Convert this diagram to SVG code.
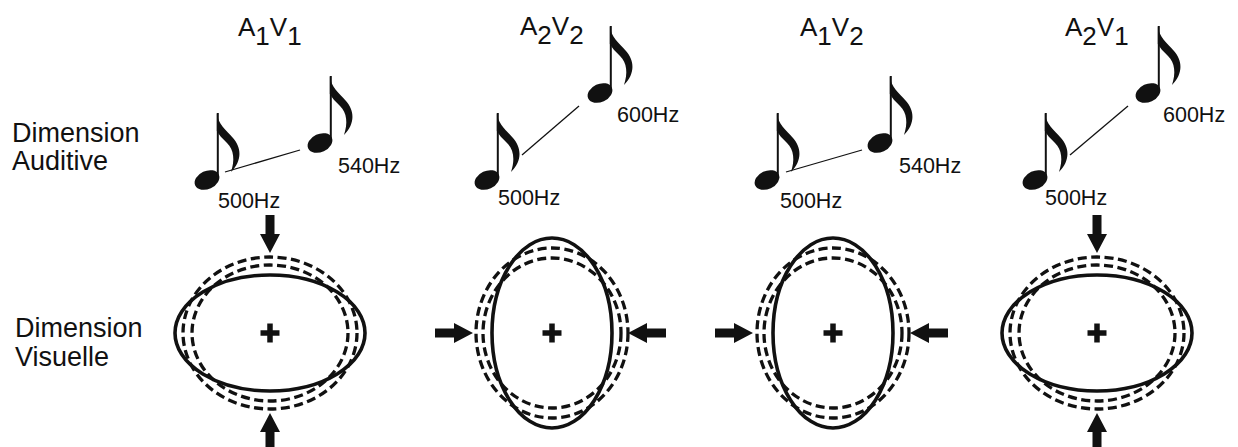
<svg xmlns="http://www.w3.org/2000/svg" xmlns:xlink="http://www.w3.org/1999/xlink" width="1238" height="447" viewBox="0 0 1238 447">
<style>
text{font-family:"Liberation Sans",Arial,sans-serif;fill:#111}
.lbl{font-size:27px}
.ttl{font-size:26px}
.hz{font-size:21.5px}
.solid{fill:none;stroke:#111;stroke-width:3.6}
.dash{fill:none;stroke:#111;stroke-width:3.3;stroke-dasharray:9 4.5}
.link{stroke:#111;stroke-width:1.3}
.plus{stroke:#111;stroke-width:5.5}
</style>
<defs>
<g id="note">
<ellipse cx="0" cy="0" rx="13" ry="9" transform="rotate(-25)" fill="#111"/>
<line x1="10.8" y1="-3" x2="10.8" y2="-67" stroke="#111" stroke-width="2"/>
<path d="M9.8,-67 C11,-56 19,-50 26,-42 C34,-33 36,-20 24,-8 C28,-20 27,-30 20,-37 C15,-42 12,-45 9.8,-49 Z" fill="#111"/>
</g>
<path id="arrow" d="M-38,-4.5 H-19 V-10 L0,0 L-19,10 V4.5 H-38 Z" fill="#111"/>
<g id="plus">
<line class="plus" x1="-9.5" y1="0" x2="9.5" y2="0"/>
<line class="plus" x1="0" y1="-9.5" x2="0" y2="9.5"/>
</g>
</defs>
<rect width="1238" height="447" fill="#fff"/>

<g id="labels">
<text class="lbl" x="12" y="142">Dimension</text>
<text class="lbl" x="12" y="170">Auditive</text>
<text class="lbl" x="15" y="337">Dimension</text>
<text class="lbl" x="15" y="366">Visuelle</text>
</g>

<g id="panel1">
<text class="ttl" x="238" y="36">A<tspan dy="9">1</tspan><tspan dy="-9">V</tspan><tspan dy="9">1</tspan></text>
<use xlink:href="#note" x="207" y="180"/>
<use xlink:href="#note" x="320" y="143"/>
<text class="hz" x="218" y="208">500Hz</text>
<text class="hz" x="338" y="173">540Hz</text>
<ellipse class="solid" cx="270" cy="333" rx="95" ry="58"/>
<ellipse class="dash" cx="270" cy="333" rx="87" ry="76"/>
<ellipse class="dash" cx="270" cy="333" rx="78" ry="68"/>
<use xlink:href="#plus" x="270" y="333"/>
</g>

<g id="panel2">
<text class="ttl" x="520" y="35">A<tspan dy="9">2</tspan><tspan dy="-9">V</tspan><tspan dy="9">2</tspan></text>
<use xlink:href="#note" x="487" y="180"/>
<use xlink:href="#note" x="600" y="93"/>
<text class="hz" x="498" y="205">500Hz</text>
<text class="hz" x="617" y="122">600Hz</text>
<ellipse class="solid" cx="552" cy="333" rx="60" ry="95"/>
<ellipse class="dash" cx="552" cy="333" rx="76" ry="85"/>
<ellipse class="dash" cx="552" cy="333" rx="69" ry="75"/>
<use xlink:href="#plus" x="552" y="333"/>
</g>

<g id="panel3">
<text class="ttl" x="800" y="36">A<tspan dy="9">1</tspan><tspan dy="-9">V</tspan><tspan dy="9">2</tspan></text>
<use xlink:href="#note" x="767" y="180"/>
<use xlink:href="#note" x="880" y="143"/>
<text class="hz" x="780" y="208">500Hz</text>
<text class="hz" x="899" y="173">540Hz</text>
<ellipse class="solid" cx="833" cy="333" rx="60" ry="95"/>
<ellipse class="dash" cx="833" cy="333" rx="76" ry="85"/>
<ellipse class="dash" cx="833" cy="333" rx="69" ry="75"/>
<use xlink:href="#plus" x="833" y="333"/>
</g>

<g id="panel4">
<text class="ttl" x="1065" y="36">A<tspan dy="9">2</tspan><tspan dy="-9">V</tspan><tspan dy="9">1</tspan></text>
<use xlink:href="#note" x="1035" y="180"/>
<use xlink:href="#note" x="1148" y="93"/>
<text class="hz" x="1045" y="205">500Hz</text>
<text class="hz" x="1163" y="122">600Hz</text>
<ellipse class="solid" cx="1097" cy="333" rx="95" ry="58"/>
<ellipse class="dash" cx="1097" cy="333" rx="87" ry="76"/>
<ellipse class="dash" cx="1097" cy="333" rx="78" ry="68"/>
<use xlink:href="#plus" x="1097" y="333"/>
</g>

<g id="connectors">
<line class="link" x1="225" y1="172" x2="300" y2="150"/>
<line class="link" x1="522" y1="155" x2="579" y2="106"/>
<line class="link" x1="786" y1="172" x2="862" y2="150"/>
<line class="link" x1="1070" y1="155" x2="1128" y2="106"/>
<use xlink:href="#arrow" transform="translate(270,253) rotate(90)"/>
<use xlink:href="#arrow" transform="translate(270,413) rotate(-90)"/>
<use xlink:href="#arrow" transform="translate(473,333)"/>
<use xlink:href="#arrow" transform="translate(628,333) rotate(180)"/>
<use xlink:href="#arrow" transform="translate(753,333)"/>
<use xlink:href="#arrow" transform="translate(910,333) rotate(180)"/>
<use xlink:href="#arrow" transform="translate(1097,253) rotate(90)"/>
<use xlink:href="#arrow" transform="translate(1097,413) rotate(-90)"/>
</g>
</svg>
